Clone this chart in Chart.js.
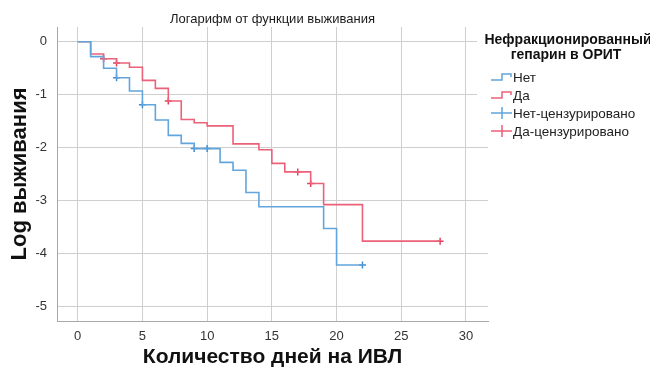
<!DOCTYPE html>
<html><head><meta charset="utf-8">
<script src="https://cdn.jsdelivr.net/npm/chart.js@4.4.1/dist/chart.umd.min.js"></script>
<style>html,body{margin:0;padding:0;background:#fff}#wrap{width:650px;height:376px}</style>
</head><body><div id="wrap"><canvas id="c" width="650" height="376"></canvas></div>
<script>
// Data
const netDays = [0, 1, 2, 3, 4, 5, 6, 7, 8, 9, 11, 12, 13, 14, 19, 20, 22];
const netLog  = [0, -0.28, -0.50, -0.68, -0.93, -1.19, -1.48, -1.77, -1.92, -2.02, -2.28, -2.43, -2.85, -3.12, -3.53, -4.22, -4.22];
const daDays  = [0, 1, 2, 3, 4, 5, 6, 7, 8, 9, 10, 12, 14, 15, 16, 18, 19, 22, 28];
const daLog   = [0, -0.23, -0.32, -0.40, -0.48, -0.73, -0.88, -1.12, -1.47, -1.53, -1.59, -1.93, -2.04, -2.30, -2.46, -2.68, -3.08, -3.77, -3.77];
const netCensDays = [3, 5, 9, 10, 22];
const netCensLog  = [-0.68, -1.19, -2.02, -2.02, -4.22];
const daCensDays  = [2, 3, 7, 17, 18, 28];
const daCensLog   = [-0.32, -0.40, -1.12, -2.46, -2.68, -3.77];
const xTicks = [0, 5, 10, 15, 20, 25, 30];
const yTicks = [-5, -4, -3, -2, -1, 0];
const legendTitle = ['Нефракционированный', 'гепарин в ОРИТ'];
const legendLabels = ['Нет', 'Да', 'Нет-цензурировано', 'Да-цензурировано'];

const BLUE = '#62a5dc', RED = '#ec6179', BLUE_D = '#3f8ed2', RED_D = '#e0405c';
const FONT = '"Liberation Sans", Arial, sans-serif';
const pts = (xs, ys) => xs.map((x, i) => ({x, y: ys[i]}));

const overlay = {
  id: 'overlay',
  afterDraw(chart) {
    const ctx = chart.ctx;
    ctx.save();
    ctx.fillStyle = '#1a1a1a';
    ctx.font = '13px ' + FONT;
    ctx.textAlign = 'center';
    ctx.textBaseline = 'middle';
    const ca = chart.chartArea;
    ctx.fillText('Логарифм от функции выживания', (ca.left + ca.right) / 2, 19);
    ctx.fillStyle = '#fff';
    ctx.fillRect(477, 28, 173, 115);
    ctx.fillStyle = '#111';
    ctx.font = 'bold 14px ' + FONT;
    ctx.fillText(legendTitle[0], 568, 40);
    ctx.fillText(legendTitle[1], 566, 55);
    ctx.textAlign = 'left';
    ctx.font = '13.5px ' + FONT;
    const ys = [77, 95, 113, 131];
    const cols = [BLUE, RED, BLUE, RED];
    legendLabels.forEach((lab, i) => {
      const y = ys[i];
      ctx.strokeStyle = cols[i];
      ctx.lineWidth = 1.5;
      ctx.beginPath();
      if (i < 2) {
        ctx.moveTo(491, y + 3); ctx.lineTo(502, y + 3); ctx.lineTo(502, y - 3); ctx.lineTo(511, y - 3); ctx.lineTo(511, y);
      } else {
        ctx.moveTo(491, y); ctx.lineTo(512, y);
        ctx.moveTo(502, y - 6); ctx.lineTo(502, y + 6);
      }
      ctx.stroke();
      ctx.fillStyle = '#222';
      ctx.fillText(lab, 513, y + 1);
    });
    ctx.restore();
  }
};

new Chart(document.getElementById('c'), {
  type: 'line',
  data: {
    datasets: [
      {label: legendLabels[0], data: pts(netDays, netLog), borderColor: BLUE, borderWidth: 1.6, stepped: true, pointRadius: 0, fill: false},
      {label: legendLabels[1], data: pts(daDays, daLog), borderColor: RED, borderWidth: 1.6, stepped: true, pointRadius: 0, fill: false},
      {label: legendLabels[2], data: pts(netCensDays, netCensLog), showLine: false, pointStyle: 'cross', pointRadius: 3.5, borderColor: BLUE_D, pointBorderWidth: 1.5, backgroundColor: BLUE_D},
      {label: legendLabels[3], data: pts(daCensDays, daCensLog), showLine: false, pointStyle: 'cross', pointRadius: 3.5, borderColor: RED_D, pointBorderWidth: 1.5, backgroundColor: RED_D}
    ]
  },
  options: {
    responsive: false,
    animation: false,
    events: [],
    layout: {padding: {left: 0, top: 27, right: 162, bottom: 0}},
    plugins: {legend: {display: false}, title: {display: false}, tooltip: {enabled: false}},
    scales: {
      x: {
        type: 'linear', min: -1.6, max: 31.7,
        afterBuildTicks: s => { s.ticks = xTicks.map(v => ({value: v})); },
        afterFit: s => { s.height = 55; },
        grid: {color: '#cfcfcf', lineWidth: 1, drawTicks: false},
        border: {display: true, color: '#a8a8a8', width: 1},
        ticks: {padding: 8, color: '#333', font: {family: FONT, size: 13}, maxRotation: 0},
        title: {display: true, text: 'Количество дней на ИВЛ', color: '#111', font: {family: FONT, size: 21, weight: 'bold'}, padding: {top: 0, bottom: 6}}
      },
      y: {
        type: 'linear', min: -5.28, max: 0.28,
        afterBuildTicks: s => { s.ticks = yTicks.map(v => ({value: v})); },
        afterFit: s => { s.width = 57; },
        grid: {color: '#cfcfcf', lineWidth: 1, drawTicks: false},
        border: {display: true, color: '#a8a8a8', width: 1},
        ticks: {padding: 10, color: '#333', font: {family: FONT, size: 13}},
        title: {display: true, text: 'Log выживания', color: '#111', font: {family: FONT, size: 22, weight: 'bold'}, padding: {top: 7, bottom: 0}}
      }
    }
  },
  plugins: [overlay]
});
</script>
</body></html>
